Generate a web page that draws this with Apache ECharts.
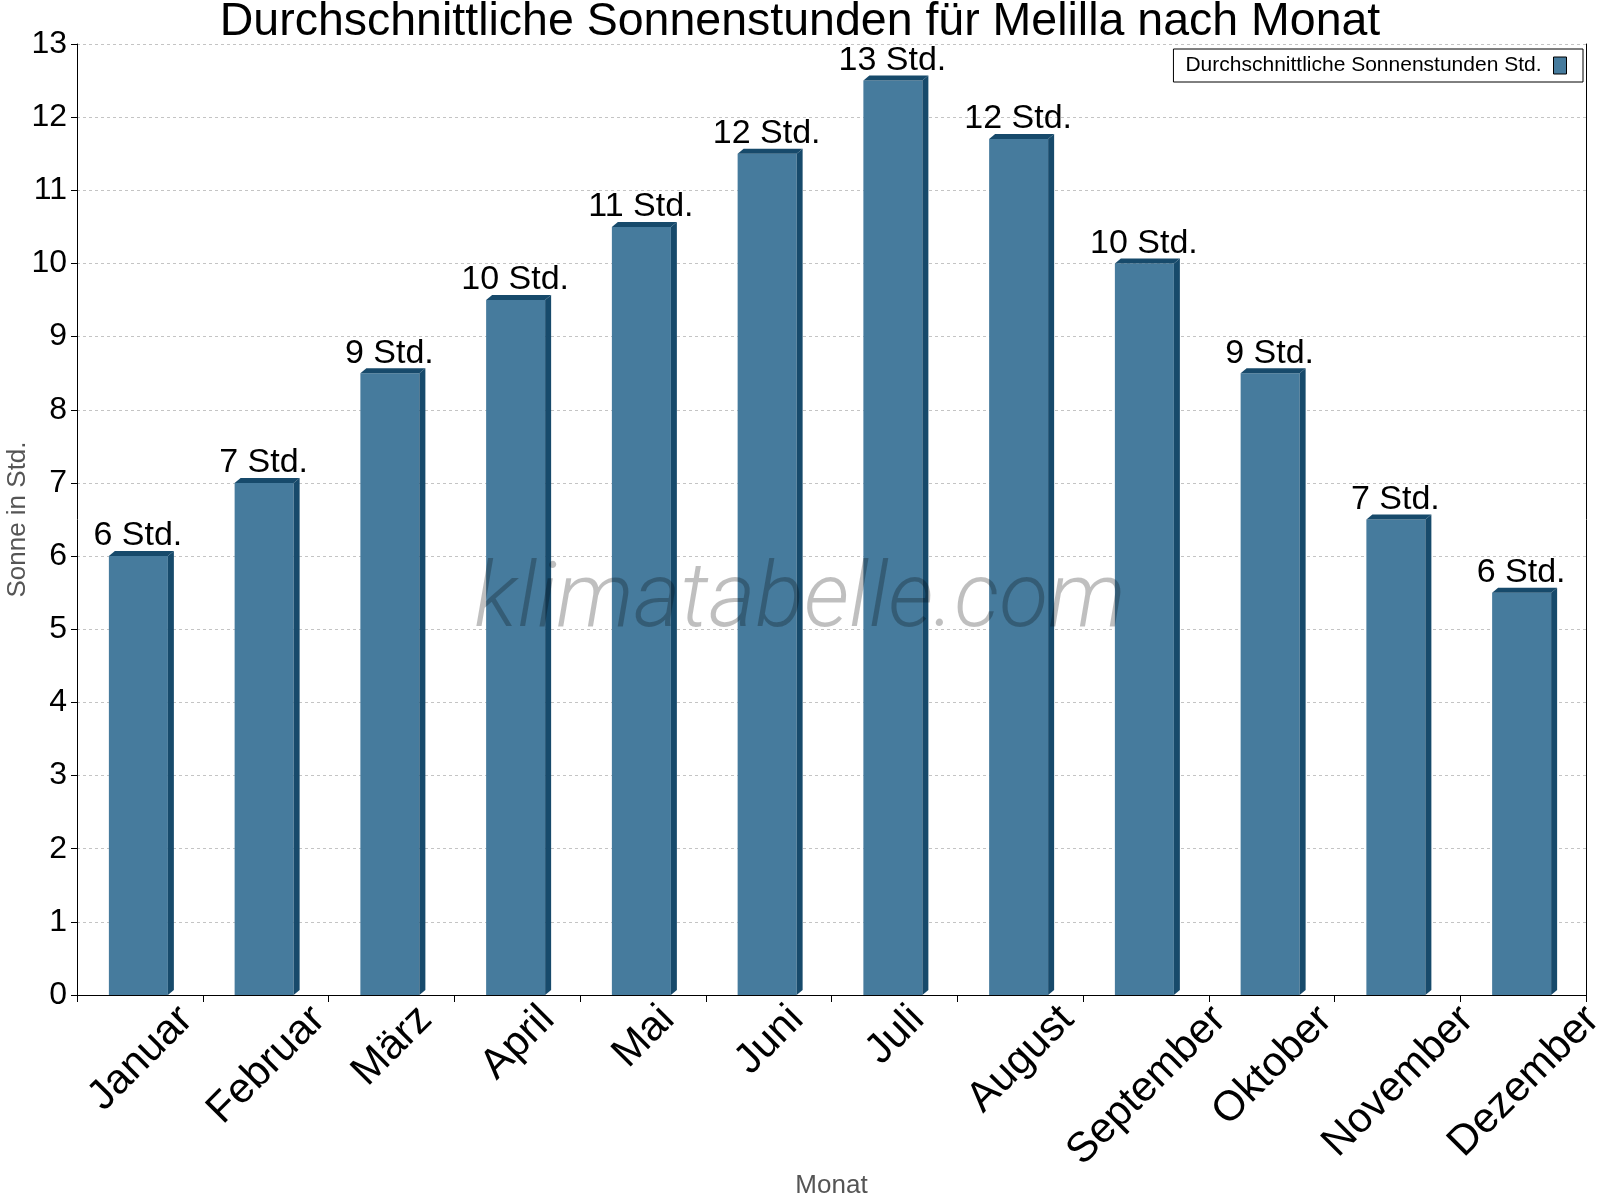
<!DOCTYPE html>
<html lang="de">
<head>
  <meta charset="UTF-8">
  <title>Sonnenstunden Melilla</title>
  <style>
    * { padding: 0; margin: 0; }
    #charts { width: 1600px; height: 1200px; }
  </style>
</head>
<body>
  <div id="charts"></div>
</body>
<script src="https://cdn.jsdelivr.net/npm/echarts@6/dist/echarts.min.js" type="text/javascript"></script>
<script type="text/javascript">
  var months = ['Januar', 'Februar', 'März', 'April', 'Mai', 'Juni', 'Juli', 'August', 'September', 'Oktober', 'November', 'Dezember']
  var sunHours = [6.0, 7.0, 8.5, 9.5, 10.5, 11.5, 12.5, 11.7, 10.0, 8.5, 6.5, 5.5]
  var seriesName = 'Durchschnittliche Sonnenstunden Std.'
  var unit = ' Std.'

  var FONT = "'Liberation Sans', Arial, sans-serif"
  var FRONT = '#467b9d', DARK = '#174a6b'
  var DX = 6, DY = 5
  var MONTH_FONT = '42px ' + FONT

  // rotated month labels: bounding box centred under the category, top aligned
  var ctx = document.createElement('canvas').getContext('2d')
  ctx.font = MONTH_FONT
  var monthWidths = months.map(function (m) { return ctx.measureText(m).width })

  var myChart = echarts.init(document.getElementById('charts'))

  function renderBar(params, api) {
    var top = api.coord([api.value(0), api.value(1)])
    var base = api.coord([api.value(0), 0])
    var cx = top[0], yt = top[1], yb = base[1]
    var fl = cx - 31, fr = cx + 28
    return {
      type: 'group',
      children: [
        { type: 'rect', shape: { x: fl, y: yt, width: fr - fl, height: yb - yt }, style: { fill: FRONT } },
        { type: 'polygon', shape: { points: [[fr, yt], [fr + DX, yt - DY], [fr + DX, yb - DY], [fr, yb]] }, style: { fill: DARK } },
        { type: 'polygon', shape: { points: [[fl, yt], [fl + DX, yt - DY], [fr + DX, yt - DY], [fr, yt]] }, style: { fill: DARK } },
        {
          type: 'text', x: cx - 2, y: yt - 3,
          style: {
            text: Math.round(api.value(1)) + unit, fill: '#000',
            font: '34px ' + FONT, align: 'center', verticalAlign: 'bottom'
          }
        }
      ]
    }
  }

  function renderMonth(params, api) {
    var i = api.value(0)
    var p = api.coord([i, 0])
    var w = monthWidths[i]
    return {
      type: 'text',
      x: p[0] + 1,
      y: p[1] + 0.354 * w + 18,
      rotation: Math.PI / 4,
      style: { text: months[i], fill: '#000', font: MONTH_FONT, align: 'center', verticalAlign: 'middle' }
    }
  }

  var option = {
    animation: false,
    backgroundColor: '#fff',
    title: {
      text: 'Durchschnittliche Sonnenstunden für Melilla nach Monat',
      left: 'center', top: -6,
      textStyle: { fontFamily: FONT, fontSize: 46.5, fontWeight: 'normal', color: '#000' }
    },
    legend: {
      right: 17, top: 49,
      align: 'right',
      itemWidth: 13, itemHeight: 17,
      padding: [6, 16, 6, 12],
      borderColor: '#000', borderWidth: 1, borderRadius: 0,
      backgroundColor: '#fff',
      icon: 'rect',
      itemStyle: { borderColor: '#000', borderWidth: 1 },
      textStyle: { fontFamily: FONT, fontSize: 21, color: '#000', padding: [0, 7, 0, 0] },
      data: [seriesName]
    },
    graphic: [{
      type: 'text', left: 'center', top: 558, z: 100, silent: true,
      style: {
        text: 'klimatabelle.com', fill: 'rgba(0,0,0,0.25)',
        font: 'italic 300 90px Roboto, sans-serif'
      }
    }],
    grid: { left: 77, right: 14, top: 44, bottom: 205, containLabel: false, outerBoundsMode: 'none' },
    xAxis: {
      type: 'category',
      data: months,
      name: 'Monat', nameLocation: 'middle', nameGap: 178,
      nameTextStyle: { fontFamily: FONT, fontSize: 26, color: '#555' },
      axisLine: { lineStyle: { color: '#000', width: 1 } },
      axisTick: { show: true, length: 7, lineStyle: { color: '#000' } },
      axisLabel: { show: false },
      splitLine: { show: false }
    },
    yAxis: [{
      type: 'value', min: 0, max: 13, interval: 1,
      name: 'Sonne in Std.', nameLocation: 'middle', nameGap: 46, nameMoveOverlap: false,
      nameTextStyle: { fontFamily: FONT, fontSize: 26, color: '#555' },
      axisLine: { show: true, lineStyle: { color: '#000', width: 1 } },
      axisTick: { show: true, length: 6, lineStyle: { color: '#000' } },
      axisLabel: { margin: 10, fontFamily: FONT, fontSize: 32, color: '#000' },
      splitLine: { show: true, lineStyle: { color: '#c4c4c4', type: [3, 3], width: 1 } }
    }, {
      type: 'value', min: 0, max: 13, interval: 1, position: 'right',
      axisLine: { show: true, lineStyle: { color: '#000', width: 1 } },
      axisTick: { show: false }, axisLabel: { show: false }, splitLine: { show: false }
    }],
    series: [{
      name: seriesName,
      type: 'custom',
      renderItem: renderBar,
      itemStyle: { color: FRONT },
      encode: { x: 0, y: 1 },
      data: sunHours.map(function (v, i) { return [i, v] })
    }, {
      name: 'Monatsnamen',
      type: 'custom',
      renderItem: renderMonth,
      silent: true,
      clip: false,
      encode: { x: 0, y: 1 },
      data: months.map(function (m, i) { return [i, 0] })
    }]
  }
  myChart.setOption(option)
</script>
</html>
